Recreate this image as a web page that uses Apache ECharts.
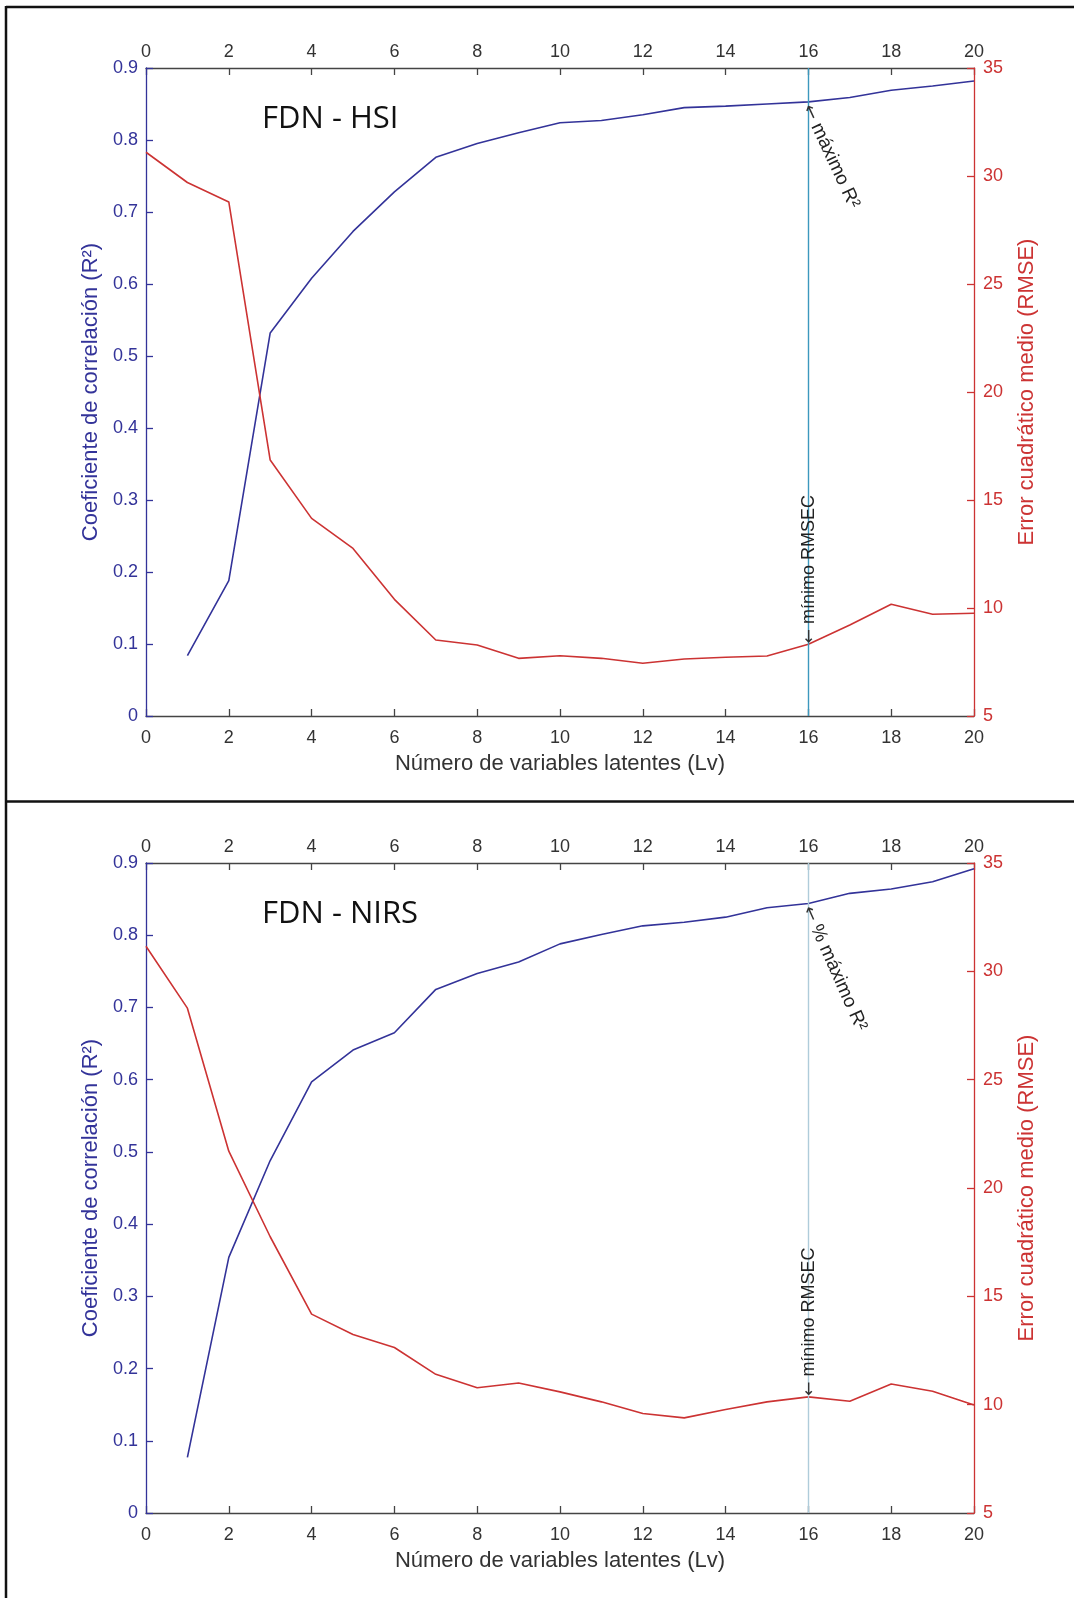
<!DOCTYPE html>
<html>
<head>
<meta charset="utf-8">
<script src="https://cdn.jsdelivr.net/npm/echarts@6/dist/echarts.min.js"></script>
<style>
html,body{margin:0;padding:0;background:#fff;}
#chart{width:1074px;height:1598px;}
</style>
</head>
<body>
<div id="chart"></div>
<script>
// ---- data ----
const lv = [0,1,2,3,4,5,6,7,8,9,10,11,12,13,14,15,16,17,18,19,20];
const titles = ['FDN - HSI', 'FDN - NIRS'];
// R2 starts at Lv = 1 (null at 0)
const hsiR2 = [null,0.084,0.188,0.532,0.608,0.673,0.728,0.776,0.795,0.810,0.824,0.827,0.835,0.845,0.847,0.850,0.853,0.859,0.869,0.875,0.882];
const hsiRMSE = [31.1,29.7,28.8,16.85,14.15,12.76,10.4,8.52,8.29,7.67,7.79,7.67,7.44,7.64,7.72,7.78,8.32,9.21,10.17,9.71,9.76];
const nirsR2 = [null,0.077,0.354,0.488,0.597,0.641,0.665,0.725,0.747,0.763,0.788,0.801,0.813,0.818,0.825,0.838,0.844,0.858,0.864,0.874,0.892];
const nirsRMSE = [31.16,28.3,21.7,17.75,14.18,13.24,12.64,11.4,10.78,11.0,10.59,10.13,9.59,9.39,9.78,10.13,10.36,10.16,10.95,10.62,9.98];
const bestLv = [16, 16];
const maxLabels = [' m\u00e1ximo R\u00b2', ' % m\u00e1ximo R\u00b2'];
const minLabel = ' m\u00ednimo RMSEC';
const xName = 'Número de variables latentes (Lv)';
const yLeftName = 'Coeficiente de correlación (R²)';
const yRightName = 'Error cuadrático medio (RMSE)';

const BLUE = '#333399';
const RED = '#CC3333';
const GRAY = '#444444';
const FONT = 'Liberation Sans';
const vlineColors = ['#3C98BE', '#AFCCDA'];
const maxAngles = [65, 66];

function pairs(arr){ return lv.map((x,i)=>[x, arr[i]]).filter(p=>p[1]!==null); }

const grids = [
  {left:146, top:68, width:828, height:648},
  {left:146, top:863, width:828, height:650}
];

function xAx(g, pos){
  return {
    type:'value', gridIndex:g, position:pos, min:0, max:20, interval:2,
    name: pos==='bottom' ? xName : '',
    nameLocation:'middle', nameGap:37,
    nameTextStyle:{color:'#333', fontSize:22, fontFamily:FONT},
    axisLine:{show:true, onZero:false, lineStyle:{color:GRAY, width:1.3}},
    axisTick:{show:true, inside:true, length:7, lineStyle:{color:GRAY, width:1.3}},
    axisLabel:{color:'#333', fontSize:18, fontFamily:FONT, margin: pos==='bottom' ? 13 : 7},
    splitLine:{show:false}, z:2
  };
}
function yLeft(g){
  return {
    type:'value', gridIndex:g, position:'left', min:0, max:0.9, interval:0.1,
    name:yLeftName, nameLocation:'middle', nameRotate:90, nameGap:44,
    nameTextStyle:{color:BLUE, fontSize:22, fontFamily:FONT},
    axisLine:{show:true, onZero:false, lineStyle:{color:BLUE, width:1.3}},
    axisTick:{show:true, inside:true, length:7, lineStyle:{color:BLUE, width:1.3}},
    axisLabel:{color:BLUE, fontSize:18, fontFamily:FONT, margin:8},
    splitLine:{show:false}, z:3
  };
}
function yRight(g){
  return {
    type:'value', gridIndex:g, position:'right', min:5, max:35, interval:5,
    name:yRightName, nameLocation:'middle', nameRotate:90, nameGap:42,
    nameTextStyle:{color:RED, fontSize:22, fontFamily:FONT},
    axisLine:{show:true, onZero:false, lineStyle:{color:RED, width:1.3}},
    axisTick:{show:true, inside:true, length:7, lineStyle:{color:RED, width:1.3}},
    axisLabel:{color:RED, fontSize:18, fontFamily:FONT, margin:9},
    splitLine:{show:false}, z:3
  };
}

const datasets = [[hsiR2, hsiRMSE], [nirsR2, nirsRMSE]];
const series = [];
datasets.forEach((d, g)=>{
  series.push({
    type:'line', xAxisIndex:2*g, yAxisIndex:2*g, data:pairs(d[0]),
    showSymbol:false, symbol:'none', lineStyle:{color:BLUE, width:1.6}, z:3,
    markLine:{silent:true, symbol:'none', label:{show:false},
      lineStyle:{color:vlineColors[g], width:1.4, type:'solid'},
      data:[{xAxis:bestLv[g]}]}
  });
  series.push({
    type:'line', xAxisIndex:2*g, yAxisIndex:2*g+1, data:pairs(d[1]),
    showSymbol:false, symbol:'none', lineStyle:{color:RED, width:1.6}, z:3
  });
});

const chart = echarts.init(document.getElementById('chart'), null, {renderer:'canvas'});
chart.setOption({
  animation:false,
  backgroundColor:'#fff',
  grid:grids,
  xAxis:[xAx(0,'bottom'), xAx(0,'top'), xAx(1,'bottom'), xAx(1,'top')],
  yAxis:[yLeft(0), yRight(0), yLeft(1), yRight(1)],
  series:series
});

// annotations positioned via the chart's own scales
const annRich = {
  a:{font:'18px "DejaVu Sans"', fill:'#333'},
  b:{font:'19px "Liberation Sans"', fill:'#222'}
};
const minRich = {
  a:{font:'17px "DejaVu Sans"', fill:'#333'},
  b:{font:'18px "Liberation Sans"', fill:'#222'}
};
const gfx = [
  {type:'line', shape:{x1:6, y1:7, x2:1074, y2:7}, style:{stroke:'#111', lineWidth:2.5}},
  {type:'line', shape:{x1:6, y1:6, x2:6, y2:1598}, style:{stroke:'#111', lineWidth:2.5}},
  {type:'line', shape:{x1:6, y1:801.5, x2:1074, y2:801.5}, style:{stroke:'#111', lineWidth:2.5}}
];
datasets.forEach((d, g)=>{
  const k = bestLv[g];
  const pR2 = chart.convertToPixel({seriesIndex:2*g}, [k, d[0][k]]);
  const pRM = chart.convertToPixel({seriesIndex:2*g+1}, [k, d[1][k]]);
  const top = chart.convertToPixel({seriesIndex:2*g}, [0, 0.9]);
  const a = maxAngles[g]*Math.PI/180;
  gfx.push({type:'text', x:262, y:top[1]+51, z:10,
    style:{text:titles[g], fill:'#111', font:'31px "Open Sans"', align:'left', verticalAlign:'middle'}});
  gfx.push({type:'text', x:pR2[0] - 3 + 4*Math.cos(a), y:pR2[1] + 4*Math.sin(a), rotation:-a, z:10,
    style:{text:'{a|\u2190}{b|' + maxLabels[g] + '}', rich:annRich, align:'left', verticalAlign:'middle'}});
  gfx.push({type:'text', x:pRM[0]+1, y:pRM[1]-1, rotation:Math.PI/2, z:10,
    style:{text:'{a|\u2190}{b|' + minLabel + '}', rich:minRich, align:'left', verticalAlign:'middle'}});
});
chart.setOption({graphic:gfx});
</script>
</body>
</html>
